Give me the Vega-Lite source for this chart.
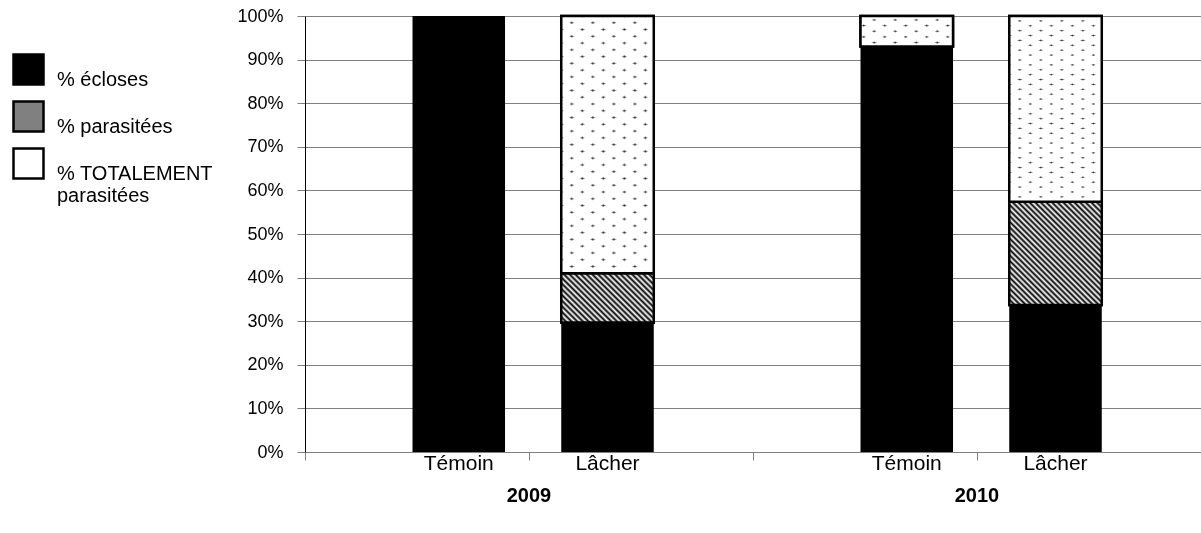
{
  "$schema": "https://vega.github.io/schema/vega-lite/v6.json",
  "width": 896,
  "height": 436,
  "autosize": "none",
  "padding": {"left": 305, "top": 16, "right": 0, "bottom": 81},
  "background": "white",
  "config": {
    "view": {"stroke": null},
    "font": "Liberation Sans",
    "axis": {"labelFont": "Liberation Sans"},
    "legend": {"labelFont": "Liberation Sans"}
  },
  "data": {
    "values": [
      {"annee": "2009", "traitement": "Témoin", "categorie": "% écloses", "valeur": 100},
      {"annee": "2009", "traitement": "Lâcher", "categorie": "% écloses", "valeur": 29.7},
      {"annee": "2009", "traitement": "Lâcher", "categorie": "% parasitées", "valeur": 11.3},
      {"annee": "2009", "traitement": "Lâcher", "categorie": "% TOTALEMENT parasitées", "valeur": 59.0},
      {"annee": "2010", "traitement": "Témoin", "categorie": "% écloses", "valeur": 93.0},
      {"annee": "2010", "traitement": "Témoin", "categorie": "% TOTALEMENT parasitées", "valeur": 7.0},
      {"annee": "2010", "traitement": "Lâcher", "categorie": "% écloses", "valeur": 33.7},
      {"annee": "2010", "traitement": "Lâcher", "categorie": "% parasitées", "valeur": 23.7},
      {"annee": "2010", "traitement": "Lâcher", "categorie": "% TOTALEMENT parasitées", "valeur": 42.6}
    ]
  },
  "transform": [
    {"stack": "valeur", "groupby": ["annee", "traitement"], "sort": [{"field": "categorie", "order": "descending"}], "as": ["y0", "y1"]}
  ],
  "resolve": {"axis": {"x": "independent"}},
  "layer": [
    {
      "mark": {"type": "bar", "stroke": "black"},
      "encoding": {
        "x": {
          "field": "annee", "type": "nominal",
          "scale": {"paddingInner": 0, "paddingOuter": 0},
          "axis": {"title": null, "orient": "bottom", "labelAngle": 0, "labelFontWeight": "bold", "labelFontSize": 20, "labelColor": "black", "labelPadding": 25, "tickSize": 8, "tickColor": "#808080", "domainColor": "#808080", "grid": false}
        },
        "xOffset": {
          "field": "traitement", "type": "nominal",
          "scale": {"domain": ["Témoin", "Lâcher"], "paddingInner": 0.378, "paddingOuter": 0.695, "align": 0.52}
        },
        "y": {
          "field": "y0", "type": "quantitative",
          "scale": {"domain": [0, 100], "nice": false},
          "axis": {"title": null, "values": [0, 10, 20, 30, 40, 50, 60, 70, 80, 90, 100], "labelExpr": "datum.value + '%'", "grid": true, "gridColor": "#808080", "gridOpacity": 1, "gridWidth": 1, "domainColor": "black", "domainWidth": 1, "tickColor": "#808080", "tickSize": 8, "labelFontSize": 18, "labelColor": "black", "labelPadding": 14}
        },
        "y2": {"field": "y1"},
        "strokeWidth": {"condition": {"test": "datum.categorie === '% écloses'", "value": 0}, "value": 2.5},
        "fill": {
          "field": "categorie", "type": "nominal",
          "scale": {"domain": ["% écloses", "% parasitées", "% TOTALEMENT parasitées"], "range": ["black", "#808080", "white"]},
          "legend": {
            "title": null, "orient": "none", "legendX": -293, "legendY": 37, "padding": 0,
            "symbolType": "square", "symbolSize": 900, "symbolStrokeColor": "black", "symbolStrokeWidth": 2.5,
            "labelFontSize": 20, "labelColor": "black", "labelOffset": 12, "labelLimit": 0, "rowPadding": 6,
            "labelBaseline": "top",
            "labelExpr": "datum.label === '% TOTALEMENT parasitées' ? ['% TOTALEMENT', 'parasitées'] : datum.label"
          }
        }
      }
    },
    {
      "transform": [{"filter": "datum.annee === '2009' && datum.categorie === '% parasitées'"}],
      "mark": {"type": "bar", "stroke": "black", "strokeWidth": 2.5, "fill": {"gradient": "linear", "x1": 0, "y1": 1, "x2": 1.193, "y2": 0.361, "stops": [
        {"offset": 0, "color": "black"}, {"offset": 0.02, "color": "white"}, {"offset": 0.04, "color": "black"}, {"offset": 0.06, "color": "white"}, {"offset": 0.08, "color": "black"},
        {"offset": 0.10, "color": "white"}, {"offset": 0.12, "color": "black"}, {"offset": 0.14, "color": "white"}, {"offset": 0.16, "color": "black"}, {"offset": 0.18, "color": "white"},
        {"offset": 0.20, "color": "black"}, {"offset": 0.22, "color": "white"}, {"offset": 0.24, "color": "black"}, {"offset": 0.26, "color": "white"}, {"offset": 0.28, "color": "black"},
        {"offset": 0.30, "color": "white"}, {"offset": 0.32, "color": "black"}, {"offset": 0.34, "color": "white"}, {"offset": 0.36, "color": "black"}, {"offset": 0.38, "color": "white"},
        {"offset": 0.40, "color": "black"}, {"offset": 0.42, "color": "white"}, {"offset": 0.44, "color": "black"}, {"offset": 0.46, "color": "white"}, {"offset": 0.48, "color": "black"},
        {"offset": 0.50, "color": "white"}, {"offset": 0.52, "color": "black"}, {"offset": 0.54, "color": "white"}, {"offset": 0.56, "color": "black"}, {"offset": 0.58, "color": "white"},
        {"offset": 0.60, "color": "black"}, {"offset": 0.62, "color": "white"}, {"offset": 0.64, "color": "black"}, {"offset": 0.66, "color": "white"}, {"offset": 0.68, "color": "black"},
        {"offset": 0.70, "color": "white"}, {"offset": 0.72, "color": "black"}, {"offset": 0.74, "color": "white"}, {"offset": 0.76, "color": "black"}, {"offset": 0.78, "color": "white"},
        {"offset": 0.80, "color": "black"}, {"offset": 0.82, "color": "white"}, {"offset": 0.84, "color": "black"}, {"offset": 0.86, "color": "white"}, {"offset": 0.88, "color": "black"},
        {"offset": 0.90, "color": "white"}, {"offset": 0.92, "color": "black"}, {"offset": 0.94, "color": "white"}, {"offset": 0.96, "color": "black"}, {"offset": 0.98, "color": "white"},
        {"offset": 1, "color": "black"}
      ]}},
      "encoding": {
        "x": {"field": "annee", "type": "nominal", "axis": null},
        "xOffset": {"field": "traitement", "type": "nominal"},
        "y": {"field": "y0", "type": "quantitative"},
        "y2": {"field": "y1"}
      }
    },
    {
      "transform": [{"filter": "datum.annee === '2010' && datum.categorie === '% parasitées'"}],
      "mark": {"type": "bar", "stroke": "black", "strokeWidth": 2.5, "fill": {"gradient": "linear", "x1": 0, "y1": 1, "x2": 0.94, "y2": -0.054, "stops": [
        {"offset": 0, "color": "black"}, {"offset": 0.0143, "color": "white"}, {"offset": 0.0286, "color": "black"}, {"offset": 0.0429, "color": "white"}, {"offset": 0.0571, "color": "black"},
        {"offset": 0.0714, "color": "white"}, {"offset": 0.0857, "color": "black"}, {"offset": 0.1, "color": "white"}, {"offset": 0.1143, "color": "black"}, {"offset": 0.1286, "color": "white"},
        {"offset": 0.1429, "color": "black"}, {"offset": 0.1571, "color": "white"}, {"offset": 0.1714, "color": "black"}, {"offset": 0.1857, "color": "white"}, {"offset": 0.2, "color": "black"},
        {"offset": 0.2143, "color": "white"}, {"offset": 0.2286, "color": "black"}, {"offset": 0.2429, "color": "white"}, {"offset": 0.2571, "color": "black"}, {"offset": 0.2714, "color": "white"},
        {"offset": 0.2857, "color": "black"}, {"offset": 0.3, "color": "white"}, {"offset": 0.3143, "color": "black"}, {"offset": 0.3286, "color": "white"}, {"offset": 0.3429, "color": "black"},
        {"offset": 0.3571, "color": "white"}, {"offset": 0.3714, "color": "black"}, {"offset": 0.3857, "color": "white"}, {"offset": 0.4, "color": "black"}, {"offset": 0.4143, "color": "white"},
        {"offset": 0.4286, "color": "black"}, {"offset": 0.4429, "color": "white"}, {"offset": 0.4571, "color": "black"}, {"offset": 0.4714, "color": "white"}, {"offset": 0.4857, "color": "black"},
        {"offset": 0.5, "color": "white"}, {"offset": 0.5143, "color": "black"}, {"offset": 0.5286, "color": "white"}, {"offset": 0.5429, "color": "black"}, {"offset": 0.5571, "color": "white"},
        {"offset": 0.5714, "color": "black"}, {"offset": 0.5857, "color": "white"}, {"offset": 0.6, "color": "black"}, {"offset": 0.6143, "color": "white"}, {"offset": 0.6286, "color": "black"},
        {"offset": 0.6429, "color": "white"}, {"offset": 0.6571, "color": "black"}, {"offset": 0.6714, "color": "white"}, {"offset": 0.6857, "color": "black"}, {"offset": 0.7, "color": "white"},
        {"offset": 0.7143, "color": "black"}, {"offset": 0.7286, "color": "white"}, {"offset": 0.7429, "color": "black"}, {"offset": 0.7571, "color": "white"}, {"offset": 0.7714, "color": "black"},
        {"offset": 0.7857, "color": "white"}, {"offset": 0.8, "color": "black"}, {"offset": 0.8143, "color": "white"}, {"offset": 0.8286, "color": "black"}, {"offset": 0.8429, "color": "white"},
        {"offset": 0.8571, "color": "black"}, {"offset": 0.8714, "color": "white"}, {"offset": 0.8857, "color": "black"}, {"offset": 0.9, "color": "white"}, {"offset": 0.9143, "color": "black"},
        {"offset": 0.9286, "color": "white"}, {"offset": 0.9429, "color": "black"}, {"offset": 0.9571, "color": "white"}, {"offset": 0.9714, "color": "black"}, {"offset": 0.9857, "color": "white"},
        {"offset": 1, "color": "black"}
      ]}},
      "encoding": {
        "x": {"field": "annee", "type": "nominal", "axis": null},
        "xOffset": {"field": "traitement", "type": "nominal"},
        "y": {"field": "y0", "type": "quantitative"},
        "y2": {"field": "y1"}
      }
    },
    {
      "transform": [{"filter": "datum.traitement === 'Lâcher' && datum.categorie === '% TOTALEMENT parasitées'"}],
      "mark": {"type": "bar", "strokeWidth": 0, "fill": {"gradient": "linear", "x1": 0, "y1": 1, "x2": 0.2707, "y2": -0.169, "stops": [
        {"offset": 0, "color": "#222"}, {"offset": 0.0064, "color": "white"},
        {"offset": 0.0363, "color": "white"}, {"offset": 0.0427, "color": "#222"}, {"offset": 0.0491, "color": "white"},
        {"offset": 0.0791, "color": "white"}, {"offset": 0.0855, "color": "#222"}, {"offset": 0.0919, "color": "white"},
        {"offset": 0.1218, "color": "white"}, {"offset": 0.1282, "color": "#222"}, {"offset": 0.1346, "color": "white"},
        {"offset": 0.1645, "color": "white"}, {"offset": 0.1709, "color": "#222"}, {"offset": 0.1773, "color": "white"},
        {"offset": 0.2073, "color": "white"}, {"offset": 0.2137, "color": "#222"}, {"offset": 0.2201, "color": "white"},
        {"offset": 0.2500, "color": "white"}, {"offset": 0.2564, "color": "#222"}, {"offset": 0.2628, "color": "white"},
        {"offset": 0.2927, "color": "white"}, {"offset": 0.2991, "color": "#222"}, {"offset": 0.3055, "color": "white"},
        {"offset": 0.3355, "color": "white"}, {"offset": 0.3419, "color": "#222"}, {"offset": 0.3483, "color": "white"},
        {"offset": 0.3782, "color": "white"}, {"offset": 0.3846, "color": "#222"}, {"offset": 0.3910, "color": "white"},
        {"offset": 0.4210, "color": "white"}, {"offset": 0.4274, "color": "#222"}, {"offset": 0.4338, "color": "white"},
        {"offset": 0.4637, "color": "white"}, {"offset": 0.4701, "color": "#222"}, {"offset": 0.4765, "color": "white"},
        {"offset": 0.5064, "color": "white"}, {"offset": 0.5128, "color": "#222"}, {"offset": 0.5192, "color": "white"},
        {"offset": 0.5492, "color": "white"}, {"offset": 0.5556, "color": "#222"}, {"offset": 0.5620, "color": "white"},
        {"offset": 0.5919, "color": "white"}, {"offset": 0.5983, "color": "#222"}, {"offset": 0.6047, "color": "white"},
        {"offset": 0.6346, "color": "white"}, {"offset": 0.6410, "color": "#222"}, {"offset": 0.6474, "color": "white"},
        {"offset": 0.6774, "color": "white"}, {"offset": 0.6838, "color": "#222"}, {"offset": 0.6902, "color": "white"},
        {"offset": 0.7201, "color": "white"}, {"offset": 0.7265, "color": "#222"}, {"offset": 0.7329, "color": "white"},
        {"offset": 0.7628, "color": "white"}, {"offset": 0.7692, "color": "#222"}, {"offset": 0.7756, "color": "white"},
        {"offset": 0.8056, "color": "white"}, {"offset": 0.8120, "color": "#222"}, {"offset": 0.8184, "color": "white"},
        {"offset": 0.8483, "color": "white"}, {"offset": 0.8547, "color": "#222"}, {"offset": 0.8611, "color": "white"},
        {"offset": 0.8910, "color": "white"}, {"offset": 0.8974, "color": "#222"}, {"offset": 0.9038, "color": "white"},
        {"offset": 0.9338, "color": "white"}, {"offset": 0.9402, "color": "#222"}, {"offset": 0.9466, "color": "white"},
        {"offset": 0.9765, "color": "white"}, {"offset": 0.9829, "color": "#222"}, {"offset": 0.9893, "color": "white"}
      ]}},
      "encoding": {
        "x": {"field": "annee", "type": "nominal", "axis": null},
        "xOffset": {"field": "traitement", "type": "nominal"},
        "y": {"field": "y0", "type": "quantitative"},
        "y2": {"field": "y1"}
      }
    },
    {
      "transform": [{"filter": "datum.traitement === 'Lâcher' && datum.categorie === '% TOTALEMENT parasitées'"}],
      "mark": {"type": "bar", "strokeWidth": 0, "blend": "lighten", "fill": {"gradient": "linear", "x1": 0, "y1": 0, "x2": 0.2707, "y2": 1.169, "stops": [
        {"offset": 0, "color": "#222"}, {"offset": 0.0064, "color": "white"},
        {"offset": 0.0363, "color": "white"}, {"offset": 0.0427, "color": "#222"}, {"offset": 0.0491, "color": "white"},
        {"offset": 0.0791, "color": "white"}, {"offset": 0.0855, "color": "#222"}, {"offset": 0.0919, "color": "white"},
        {"offset": 0.1218, "color": "white"}, {"offset": 0.1282, "color": "#222"}, {"offset": 0.1346, "color": "white"},
        {"offset": 0.1645, "color": "white"}, {"offset": 0.1709, "color": "#222"}, {"offset": 0.1773, "color": "white"},
        {"offset": 0.2073, "color": "white"}, {"offset": 0.2137, "color": "#222"}, {"offset": 0.2201, "color": "white"},
        {"offset": 0.2500, "color": "white"}, {"offset": 0.2564, "color": "#222"}, {"offset": 0.2628, "color": "white"},
        {"offset": 0.2927, "color": "white"}, {"offset": 0.2991, "color": "#222"}, {"offset": 0.3055, "color": "white"},
        {"offset": 0.3355, "color": "white"}, {"offset": 0.3419, "color": "#222"}, {"offset": 0.3483, "color": "white"},
        {"offset": 0.3782, "color": "white"}, {"offset": 0.3846, "color": "#222"}, {"offset": 0.3910, "color": "white"},
        {"offset": 0.4210, "color": "white"}, {"offset": 0.4274, "color": "#222"}, {"offset": 0.4338, "color": "white"},
        {"offset": 0.4637, "color": "white"}, {"offset": 0.4701, "color": "#222"}, {"offset": 0.4765, "color": "white"},
        {"offset": 0.5064, "color": "white"}, {"offset": 0.5128, "color": "#222"}, {"offset": 0.5192, "color": "white"},
        {"offset": 0.5492, "color": "white"}, {"offset": 0.5556, "color": "#222"}, {"offset": 0.5620, "color": "white"},
        {"offset": 0.5919, "color": "white"}, {"offset": 0.5983, "color": "#222"}, {"offset": 0.6047, "color": "white"},
        {"offset": 0.6346, "color": "white"}, {"offset": 0.6410, "color": "#222"}, {"offset": 0.6474, "color": "white"},
        {"offset": 0.6774, "color": "white"}, {"offset": 0.6838, "color": "#222"}, {"offset": 0.6902, "color": "white"},
        {"offset": 0.7201, "color": "white"}, {"offset": 0.7265, "color": "#222"}, {"offset": 0.7329, "color": "white"},
        {"offset": 0.7628, "color": "white"}, {"offset": 0.7692, "color": "#222"}, {"offset": 0.7756, "color": "white"},
        {"offset": 0.8056, "color": "white"}, {"offset": 0.8120, "color": "#222"}, {"offset": 0.8184, "color": "white"},
        {"offset": 0.8483, "color": "white"}, {"offset": 0.8547, "color": "#222"}, {"offset": 0.8611, "color": "white"},
        {"offset": 0.8910, "color": "white"}, {"offset": 0.8974, "color": "#222"}, {"offset": 0.9038, "color": "white"},
        {"offset": 0.9338, "color": "white"}, {"offset": 0.9402, "color": "#222"}, {"offset": 0.9466, "color": "white"},
        {"offset": 0.9765, "color": "white"}, {"offset": 0.9829, "color": "#222"}, {"offset": 0.9893, "color": "white"}
      ]}},
      "encoding": {
        "x": {"field": "annee", "type": "nominal", "axis": null},
        "xOffset": {"field": "traitement", "type": "nominal"},
        "y": {"field": "y0", "type": "quantitative"},
        "y2": {"field": "y1"}
      }
    },
    {
      "transform": [{"filter": "datum.traitement === 'Témoin' && datum.categorie === '% TOTALEMENT parasitées'"}],
      "mark": {"type": "bar", "strokeWidth": 0, "fill": {"gradient": "linear", "x1": 0, "y1": 1, "x2": 1.1725, "y2": 0.2814, "stops": [
        {"offset": 0, "color": "#222"}, {"offset": 0.0211, "color": "white"},
        {"offset": 0.1197, "color": "white"}, {"offset": 0.1408, "color": "#222"}, {"offset": 0.1619, "color": "white"},
        {"offset": 0.2606, "color": "white"}, {"offset": 0.2817, "color": "#222"}, {"offset": 0.3028, "color": "white"},
        {"offset": 0.4014, "color": "white"}, {"offset": 0.4225, "color": "#222"}, {"offset": 0.4436, "color": "white"},
        {"offset": 0.5423, "color": "white"}, {"offset": 0.5634, "color": "#222"}, {"offset": 0.5845, "color": "white"},
        {"offset": 0.6831, "color": "white"}, {"offset": 0.7042, "color": "#222"}, {"offset": 0.7253, "color": "white"},
        {"offset": 0.8240, "color": "white"}, {"offset": 0.8451, "color": "#222"}, {"offset": 0.8662, "color": "white"},
        {"offset": 0.9648, "color": "white"}, {"offset": 0.9859, "color": "#222"}, {"offset": 1, "color": "white"}
      ]}},
      "encoding": {
        "x": {"field": "annee", "type": "nominal", "axis": null},
        "xOffset": {"field": "traitement", "type": "nominal"},
        "y": {"field": "y0", "type": "quantitative"},
        "y2": {"field": "y1"}
      }
    },
    {
      "transform": [{"filter": "datum.traitement === 'Témoin' && datum.categorie === '% TOTALEMENT parasitées'"}],
      "mark": {"type": "bar", "strokeWidth": 0, "blend": "lighten", "fill": {"gradient": "linear", "x1": 0, "y1": 0, "x2": 1.1725, "y2": 0.7186, "stops": [
        {"offset": 0, "color": "#222"}, {"offset": 0.0211, "color": "white"},
        {"offset": 0.1197, "color": "white"}, {"offset": 0.1408, "color": "#222"}, {"offset": 0.1619, "color": "white"},
        {"offset": 0.2606, "color": "white"}, {"offset": 0.2817, "color": "#222"}, {"offset": 0.3028, "color": "white"},
        {"offset": 0.4014, "color": "white"}, {"offset": 0.4225, "color": "#222"}, {"offset": 0.4436, "color": "white"},
        {"offset": 0.5423, "color": "white"}, {"offset": 0.5634, "color": "#222"}, {"offset": 0.5845, "color": "white"},
        {"offset": 0.6831, "color": "white"}, {"offset": 0.7042, "color": "#222"}, {"offset": 0.7253, "color": "white"},
        {"offset": 0.8240, "color": "white"}, {"offset": 0.8451, "color": "#222"}, {"offset": 0.8662, "color": "white"},
        {"offset": 0.9648, "color": "white"}, {"offset": 0.9859, "color": "#222"}, {"offset": 1, "color": "white"}
      ]}},
      "encoding": {
        "x": {"field": "annee", "type": "nominal", "axis": null},
        "xOffset": {"field": "traitement", "type": "nominal"},
        "y": {"field": "y0", "type": "quantitative"},
        "y2": {"field": "y1"}
      }
    },
    {
      "transform": [{"filter": "datum.categorie === '% TOTALEMENT parasitées'"}],
      "mark": {"type": "bar", "fill": "transparent", "stroke": "black", "strokeWidth": 2.5},
      "encoding": {
        "x": {"field": "annee", "type": "nominal", "axis": null},
        "xOffset": {"field": "traitement", "type": "nominal"},
        "y": {"field": "y0", "type": "quantitative"},
        "y2": {"field": "y1"}
      }
    },
    {
      "transform": [{"filter": "datum.categorie === '% écloses'"}],
      "mark": {"type": "text", "dy": 12, "fontSize": 21, "baseline": "middle", "color": "black"},
      "encoding": {
        "x": {
          "field": "annee", "type": "nominal",
          "axis": {"title": null, "orient": "bottom", "labels": false, "domain": false, "tickBand": "extent", "tickSize": 8, "tickColor": "#808080", "grid": false}
        },
        "xOffset": {"field": "traitement", "type": "nominal"},
        "y": {"datum": 0, "type": "quantitative"},
        "text": {"field": "traitement"}
      }
    }
  ]
}
